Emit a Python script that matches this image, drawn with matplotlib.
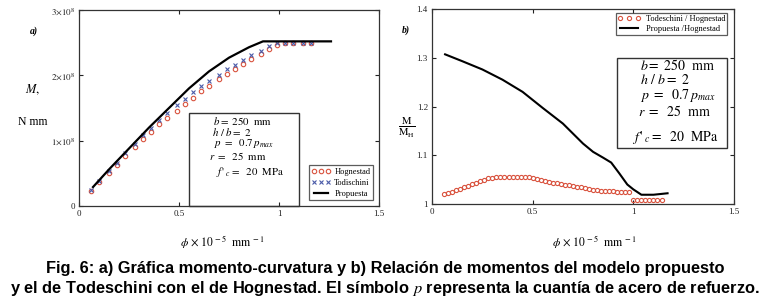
import numpy as np
import matplotlib
matplotlib.use('Agg')
import matplotlib.pyplot as plt
from matplotlib.ticker import FuncFormatter, FixedLocator
from matplotlib.patches import Rectangle

plt.rcParams['mathtext.fontset'] = 'stix'
plt.rcParams['font.family'] = ['Liberation Serif', 'DejaVu Serif']

## Data
# a) momento-curvatura (M in 1e8 N mm, phi in 1e-5 1/mm)
phi_a = [0.06, 0.10, 0.15, 0.19, 0.23, 0.28, 0.32, 0.36, 0.40, 0.44, 0.49, 0.53, 0.57, 0.61,
         0.65, 0.70, 0.74, 0.78, 0.82, 0.86, 0.91, 0.95, 0.99, 1.03, 1.07, 1.12, 1.16]
m_hognestad = [0.23, 0.37, 0.51, 0.63, 0.77, 0.91, 1.03, 1.14, 1.25, 1.35, 1.46, 1.56, 1.66, 1.76,
               1.84, 1.94, 2.02, 2.10, 2.18, 2.25, 2.33, 2.41, 2.46, 2.49, 2.49, 2.49, 2.49]
m_todeschini = [0.24, 0.38, 0.53, 0.66, 0.81, 0.95, 1.08, 1.20, 1.32, 1.43, 1.54, 1.64, 1.74, 1.84,
                1.92, 2.01, 2.09, 2.16, 2.24, 2.31, 2.38, 2.45, 2.49, 2.50, 2.50, 2.50, 2.50]
phi_prop = [0.07, 0.15, 0.25, 0.35, 0.45, 0.55, 0.65, 0.75, 0.85, 0.92, 1.26]
m_prop = [0.29, 0.56, 0.88, 1.20, 1.50, 1.80, 2.06, 2.27, 2.43, 2.52, 2.52]

# b) relacion de momentos
phi_b = [0.06, 0.08, 0.10, 0.12, 0.14, 0.16, 0.18, 0.20, 0.22, 0.24, 0.26, 0.28, 0.30, 0.32,
         0.34, 0.36, 0.38, 0.40, 0.42, 0.44, 0.46, 0.48, 0.50, 0.52, 0.54, 0.56, 0.58, 0.60,
         0.62, 0.64, 0.66, 0.68, 0.70, 0.72, 0.74, 0.76, 0.78, 0.80, 0.82, 0.84, 0.86, 0.88,
         0.90, 0.92, 0.94, 0.96, 0.98, 1.00, 1.02, 1.04, 1.06, 1.08, 1.10, 1.12, 1.14]
ratio_tod = [1.020, 1.022, 1.025, 1.028, 1.031, 1.034, 1.037, 1.041, 1.044, 1.047, 1.050, 1.053,
             1.054, 1.055, 1.055, 1.056, 1.056, 1.056, 1.056, 1.056, 1.055, 1.055, 1.054, 1.052,
             1.050, 1.048, 1.046, 1.044, 1.043, 1.041, 1.040, 1.039, 1.037, 1.035, 1.034, 1.032,
             1.030, 1.029, 1.028, 1.027, 1.027, 1.026, 1.026, 1.025, 1.025, 1.025, 1.024, 1.009,
             1.008, 1.008, 1.008, 1.008, 1.008, 1.008, 1.008]
phi_b_line = [0.065, 0.15, 0.25, 0.35, 0.45, 0.55, 0.65, 0.75, 0.80, 0.85, 0.89, 0.93, 0.97,
              1.00, 1.04, 1.10, 1.17]
ratio_prop = [1.307, 1.293, 1.276, 1.255, 1.230, 1.197, 1.165, 1.124, 1.107, 1.095, 1.085,
              1.063, 1.040, 1.030, 1.019, 1.019, 1.022]

x_ticks = [0, 0.5, 1, 1.5]
x_labels = ['0', '0.5', '1', '1.5']

red = '#d9533f'
blue = '#4a5aa8'

fig = plt.figure(figsize=(7.7, 3.07), dpi=100)
W, H = 770, 307


def box(l, t, r, b):
    return [l / W, 1 - b / H, (r - l) / W, (b - t) / H]


def frame(l, t, r, b):
    # plain rectangle given in picture pixels (top-left origin)
    rect = Rectangle((l / W, 1 - b / H), (r - l) / W, (b - t) / H,
                     transform=fig.transFigure, fill=False, lw=1.0, ec='#333333')
    fig.add_artist(rect)


def style_axes(ax):
    for s in ax.spines.values():
        s.set_linewidth(0.9)
        s.set_color('#333333')
    ax.tick_params(direction='in', length=3, width=0.8, top=True, right=True,
                   labelsize=6.5, colors='#222222', pad=3)
    ax.set_xlim(0, 1.5)
    ax.xaxis.set_major_locator(FixedLocator(x_ticks))
    ax.set_xticklabels(x_labels)


### a)
ax1 = fig.add_axes(box(79, 10, 379, 206))
style_axes(ax1)
ax1.set_ylim(0, 3)
ax1.yaxis.set_major_locator(FixedLocator([0, 1, 2, 3]))
ax1.yaxis.set_major_formatter(FuncFormatter(
    lambda v, p: '0' if v == 0 else r'$%d{\times}10^{8}$' % v))
ax1.plot(phi_a, m_hognestad, linestyle='none', marker='o', ms=3.2, mfc='none',
         mec=red, mew=0.8, label='Hognestad')
ax1.plot(phi_a, m_todeschini, linestyle='none', marker='x', ms=3.2, color=blue,
         mew=0.8, label='Todischini')
ax1.plot(phi_prop, m_prop, color='black', lw=1.6, label='Propuesta')

frame(189, 113, 299, 206)
params_a = [(213, 121, r'$b{=}\ 250\ \ \mathrm{mm}$'),
            (212, 132.5, r'$h\ /\ b{=}\ 2$'),
            (214, 144, r'$p\ =\ \ 0.7\,p_{max}$'),
            (209, 155.5, r'$r\ =\ \ 25\ \ \mathrm{mm}$'),
            (216, 172, r"$f\,'_{\ c}{=}\ \ 20\ \ \mathrm{MPa}$")]
for x, y, s in params_a:
    fig.text(x / W, 1 - y / H, s, fontsize=7.8, va='center', ha='left')

leg1 = ax1.legend(loc='lower right', bbox_to_anchor=(373 / W, 1 - 200 / H),
                  bbox_transform=fig.transFigure, fontsize=6, frameon=True,
                  fancybox=False, edgecolor='#333333', handlelength=2.2,
                  borderpad=0.3, labelspacing=0.35, handletextpad=0.5,
                  borderaxespad=0, numpoints=3)
leg1.get_frame().set_linewidth(0.9)

fig.text(30 / W, 1 - 31 / H, 'a)', fontsize=7, style='italic', weight='bold',
         ha='left', va='center')
fig.text(33 / W, 1 - 90 / H, r'$M,$', fontsize=9, ha='center', va='center')
fig.text(33 / W, 1 - 122 / H, 'N mm', fontsize=8.5, ha='center', va='center')
fig.text(222 / W, 1 - 241 / H, r'$\phi\ {\times}\ 10^{\,-5}\ \ \mathrm{mm}^{\,-1}$',
         fontsize=8.5, ha='center', va='center')

### b)
ax2 = fig.add_axes(box(432, 9, 734, 204))
style_axes(ax2)
ax2.set_ylim(1.0, 1.4)
ax2.yaxis.set_major_locator(FixedLocator([1.0, 1.1, 1.2, 1.3, 1.4]))
ax2.set_yticklabels(['1', '1.1', '1.2', '1.3', '1.4'])
ax2.plot(phi_b, ratio_tod, linestyle='none', marker='o', ms=3.0, mfc='none',
         mec=red, mew=0.8, label='Todeschini / Hognestad')
ax2.plot(phi_b_line, ratio_prop, color='black', lw=1.5, label='Propuesta /Hognestad')

leg2 = ax2.legend(loc='upper right', bbox_to_anchor=(727 / W, 1 - 13 / H),
                  bbox_transform=fig.transFigure, fontsize=6, frameon=True,
                  fancybox=False, edgecolor='#333333', handlelength=2.8,
                  borderpad=0.2, labelspacing=0.3, handletextpad=0.6,
                  borderaxespad=0, numpoints=3)
leg2.get_frame().set_linewidth(0.9)

frame(617, 58, 727, 148)
params_b = [(640, 65, r'$b{=}\ 250\ \ \mathrm{mm}$'),
            (640, 80, r'$h\ /\ b{=}\ 2$'),
            (640, 96, r'$p\ =\ \ 0.7\,p_{max}$'),
            (638, 112, r'$r\ =\ \ 25\ \ \mathrm{mm}$'),
            (632, 137, r"$f\,'_{\ c}{=}\ \ 20\ \ \mathrm{MPa}$")]
for x, y, s in params_b:
    fig.text(x / W, 1 - y / H, s, fontsize=10, va='center', ha='left')

fig.text(402 / W, 1 - 30 / H, 'b)', fontsize=7, style='italic', weight='bold',
         ha='left', va='center')
fig.text(407 / W, 1 - 128 / H, r'$\frac{\mathrm{M}}{\mathrm{M_H}}$', fontsize=11,
         ha='center', va='center')
fig.text(594 / W, 1 - 241 / H, r'$\phi\ {\times}\ 10^{\,-5}\ \ \mathrm{mm}^{\,-1}$',
         fontsize=8.5, ha='center', va='center')

### Caption
cap_font = ['Liberation Sans', 'DejaVu Sans']
fig.text(0.5, 1 - 269 / H,
         'Fig. 6: a) Gráfica momento-curvatura y b) Relación de momentos del modelo propuesto',
         fontsize=11.8, weight='bold', family=cap_font, ha='center', va='center')
fig.text(0.5, 1 - 289 / H,
         r'y el de Todeschini con el de Hognestad. El símbolo $p$ representa la cuantía de acero de refuerzo.',
         fontsize=11.8, weight='bold', family=cap_font, ha='center', va='center')

fig.savefig('out.png', dpi=100)
